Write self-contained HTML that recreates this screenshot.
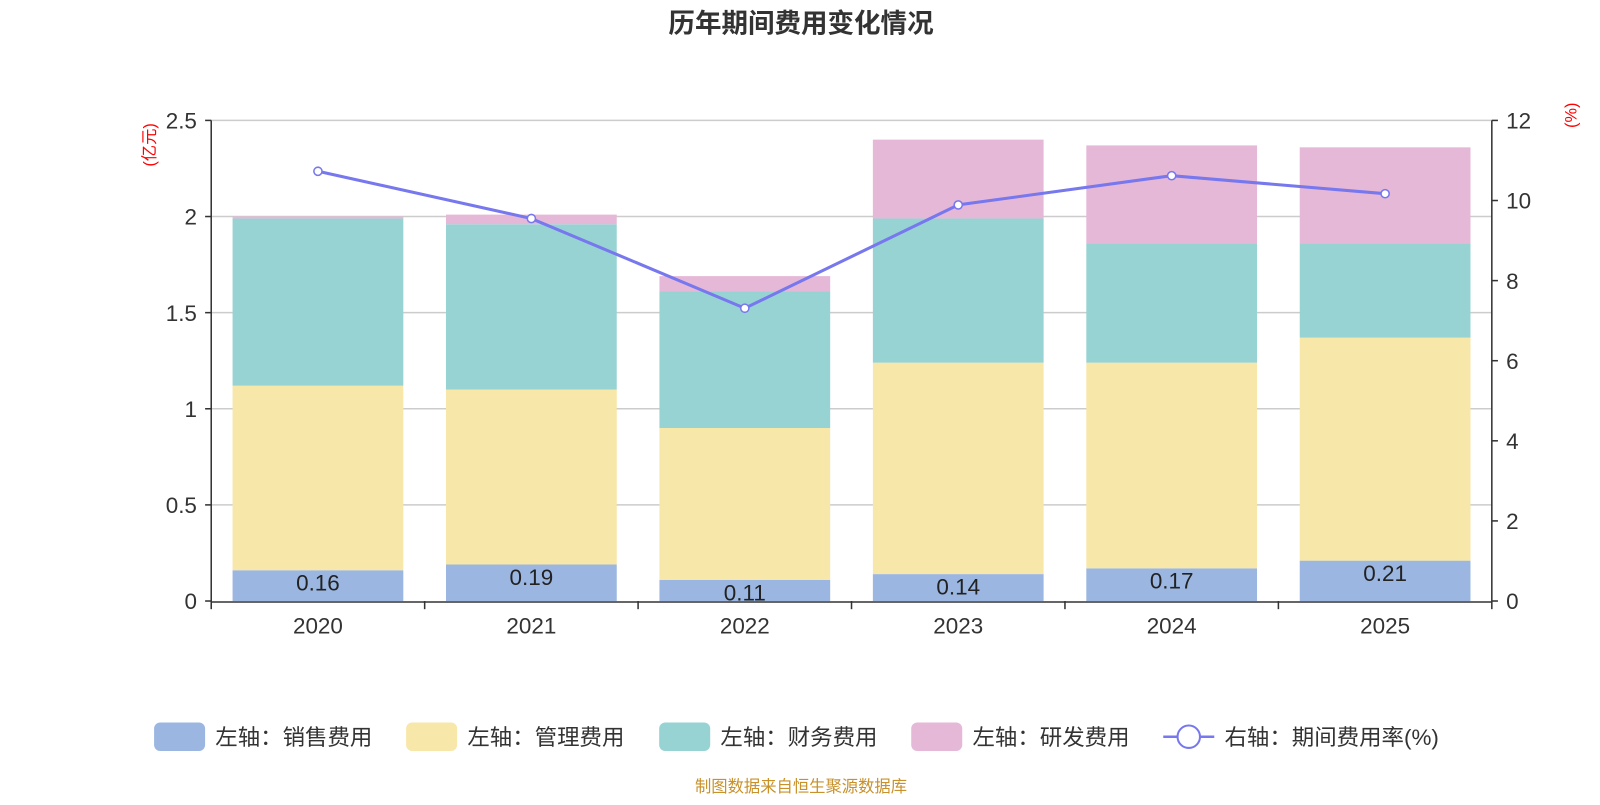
<!DOCTYPE html>
<html><head><meta charset="utf-8"><style>
body{margin:0;background:#fff;font-family:"Liberation Sans","Noto Sans CJK SC",sans-serif;}
svg text{font-family:"Liberation Sans","Noto Sans CJK SC",sans-serif;}
</style></head><body>
<svg id="c" width="1600" height="800" xmlns="http://www.w3.org/2000/svg">
<g transform="scale(1.0204)">
<text x="785" y="32" text-anchor="middle" font-size="26" font-weight="bold" fill="#333">历年期间费用变化情况</text>
<text transform="translate(152,142) rotate(-90)" text-anchor="middle" font-size="16" fill="red">(亿元)</text>
<text transform="translate(1545,113) rotate(-90)" text-anchor="middle" font-size="16" fill="red">(%)</text>
<g id="grid"></g><g id="bars"></g><g id="axes"></g><g id="line"></g>
<g>
<rect x="151" y="708" width="50" height="28" rx="6" fill="#9bb7e1"/>
<text x="211" y="730" font-size="22" fill="#333">左轴：销售费用</text>
<rect x="398" y="708" width="50" height="28" rx="6" fill="#f7e7a8"/>
<text x="458" y="730" font-size="22" fill="#333">左轴：管理费用</text>
<rect x="646" y="708" width="50" height="28" rx="6" fill="#98d3d4"/>
<text x="706" y="730" font-size="22" fill="#333">左轴：财务费用</text>
<rect x="893" y="708" width="50" height="28" rx="6" fill="#e6b8d8"/>
<text x="953" y="730" font-size="22" fill="#333">左轴：研发费用</text>
<line x1="1140" y1="722" x2="1190" y2="722" stroke="#7777ee" stroke-width="2.5"/>
<circle cx="1165" cy="722" r="11" fill="#fff" stroke="#7777ee" stroke-width="2"/>
<text x="1200" y="730" font-size="22" fill="#333">右轴：期间费用率(%)</text>
</g>
<text x="785" y="776" text-anchor="middle" font-size="16" fill="#c8912a">制图数据来自恒生聚源数据库</text>
</g>
</svg>
<script>
const categories=["2020","2021","2022","2023","2024","2025"];
const sales=[0.16,0.19,0.11,0.14,0.17,0.21];
const admin=[0.96,0.91,0.79,1.10,1.07,1.16];
const finance=[0.87,0.86,0.71,0.75,0.62,0.49];
const rd=[0.01,0.05,0.08,0.41,0.51,0.50];
const rate=[10.73,9.55,7.31,9.89,10.62,10.17];
const leftTicks=["0","0.5","1","1.5","2","2.5"];
const rightTicks=["0","2","4","6","8","10","12"];
const NS="http://www.w3.org/2000/svg";
const X0=207,X1=1462,Y0=589,Y1=118;
const band=(X1-X0)/categories.length;
const yL=v=>Y0-(v/2.5)*(Y0-Y1);
const yR=v=>Y0-(v/12)*(Y0-Y1);
const xC=i=>X0+band*(i+0.5);
function mk(tag,attrs,parent){const e=document.createElementNS(NS,tag);for(const k in attrs)e.setAttribute(k,attrs[k]);document.getElementById(parent).appendChild(e);return e;}
leftTicks.forEach((t)=>{const v=parseFloat(t);const y=yL(v);
 if(v>0){const g=mk('line',{x1:X0,x2:X1,y1:y,y2:y,stroke:'#ccc','stroke-width':1.5},'grid');}
 const tx=mk('text',{x:X0-14,y:y+8,'text-anchor':'end','font-size':22,fill:'#333'},'axes');tx.textContent=t;
 
 const tk=mk('line',{x1:X0-6,x2:X0,y1:y,y2:y,stroke:'#333','stroke-width':1.5},'axes');
});
rightTicks.forEach(t=>{const y=yR(parseFloat(t));
 const tx=mk('text',{x:X1+14,y:y+8,'font-size':22,fill:'#333'},'axes');tx.textContent=t;
 
 const tk=mk('line',{x1:X1,x2:X1+6,y1:y,y2:y,stroke:'#333','stroke-width':1.5},'axes');
});
let a=mk('line',{x1:X0,x2:X0,y1:Y1,y2:Y0,stroke:'#333','stroke-width':1.5},'axes');
a=mk('line',{x1:X1,x2:X1,y1:Y1,y2:Y0,stroke:'#333','stroke-width':1.5},'axes');
a=mk('line',{x1:X0,x2:X1,y1:Y0+1,y2:Y0+1,stroke:'#333','stroke-width':1.5},'axes');
for(let i=0;i<=categories.length;i++){const x=X0+band*i;const t=mk('line',{x1:x,x2:x,y1:Y0,y2:Y0+8,stroke:'#333','stroke-width':1.5},'axes');}
const series=[[sales,'#9bb7e1','sales'],[admin,'#f7e7a8','admin'],[finance,'#98d3d4','finance'],[rd,'#e6b8d8','rd']];
const bw=band*0.8;
categories.forEach((c,i)=>{
 const l=mk('text',{x:xC(i),y:Y0+32,'text-anchor':'middle','font-size':22,fill:'#333'},'axes');l.textContent=c;
 
 let base=0;
 series.forEach(([arr,col,nm])=>{const top=base+arr[i];
  const r=mk('rect',{x:xC(i)-bw/2,y:yL(top),width:bw,height:yL(base)-yL(top),fill:col},'bars');
  base=top;});
 const lb=mk('text',{x:xC(i),y:yL(sales[i])+20,'text-anchor':'middle','font-size':22,fill:'#222'},'bars');lb.textContent=sales[i].toFixed(2);
 
});
const pts=rate.map((v,i)=>xC(i)+','+yR(v)).join(' ');
const pl=mk('polyline',{points:pts,fill:'none',stroke:'#7777ee','stroke-width':3},'line');

rate.forEach((v,i)=>{const p=mk('circle',{cx:xC(i),cy:yR(v),r:4,fill:'#fff',stroke:'#7777ee','stroke-width':1.5},'line');
 });
</script>
</body></html>
